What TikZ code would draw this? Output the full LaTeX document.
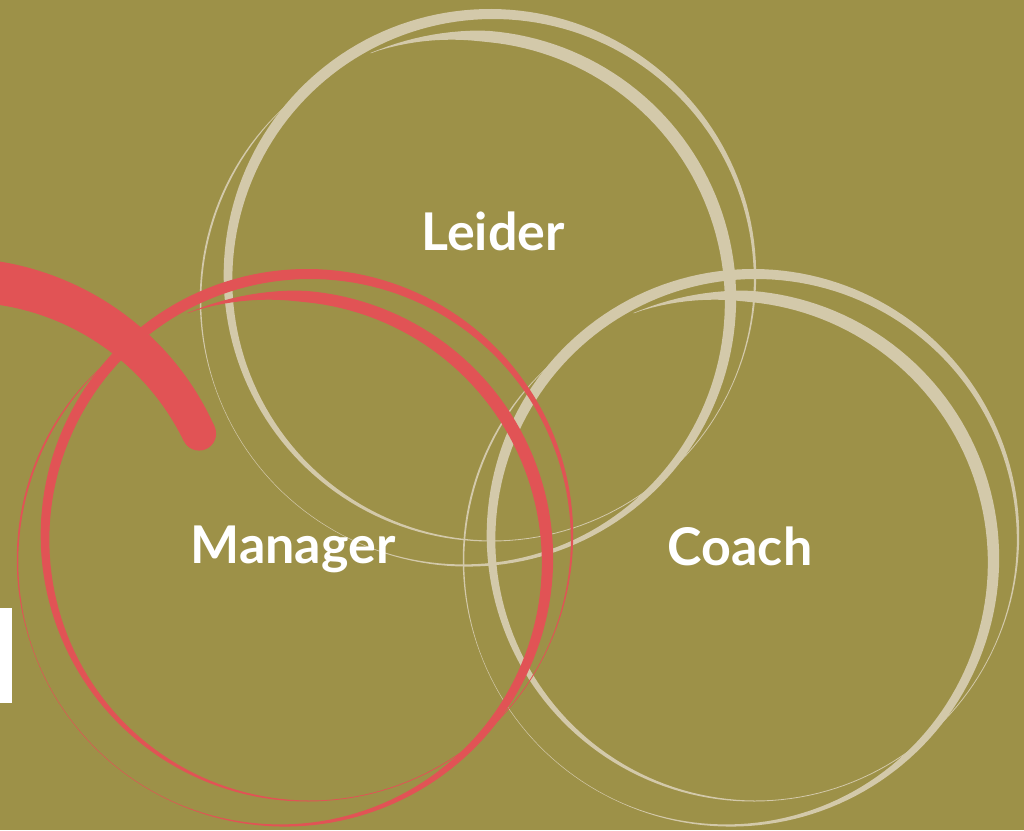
\documentclass[tikz,border=0pt]{standalone}
\usepackage{fontspec}
\setmainfont{Lato}
\definecolor{bgolive}{RGB}{157,145,72}
\definecolor{ringbeige}{RGB}{211,201,170}
\definecolor{ringred}{RGB}{225,83,85}
\tikzset{
  declare function={
    wA(\t)=max(0.8,5.5+5.5*cos(\t-235));
    wB(\t)=max(0.5,(6.5+6.5*cos(\t-318))*min(1,(\t-249)/25)*min(1,(590-\t)/55));
    wR(\t)=46-12*(\t+100)/75;
  },
  lbl/.style={text=white, font=\bfseries\fontsize{52}{60}\selectfont, anchor=base, inner sep=0pt}
}
\newcommand\brushpair[1]{%
  \fill[#1] plot[domain=0:360,samples=181,variable=\t]
      ({13.5+(263.5+wA(\t)/2)*cos(\t)},{-9.5+(263.5+wA(\t)/2)*sin(\t)})
    -- plot[domain=360:0,samples=181,variable=\t]
      ({13.5+(263.5-wA(\t)/2)*cos(\t)},{-9.5+(263.5-wA(\t)/2)*sin(\t)}) -- cycle;
  \fill[#1] plot[domain=249:590,samples=171,variable=\t]
      ({-12.5+(265+wB(\t)/2)*cos(\t)},{13.5+(265+wB(\t)/2)*sin(\t)})
    -- plot[domain=590:249,samples=171,variable=\t]
      ({-12.5+(265-wB(\t)/2)*cos(\t)},{13.5+(265-wB(\t)/2)*sin(\t)}) -- cycle;
}
\begin{document}
\begin{tikzpicture}[x=1pt,y=-1pt]
  \fill[bgolive] (0,0) rectangle (1024,830);
  \useasboundingbox (0,0) rectangle (1024,830);
  % Leider rings
  \begin{scope}[shift={(478,287)}]
    \brushpair{ringbeige}
  \end{scope}
  % Coach rings
  \begin{scope}[shift={(741,547)}]
    \brushpair{ringbeige}
  \end{scope}
  % Manager rings
  \begin{scope}[shift={(295,547)}]
    \brushpair{ringred}
  \end{scope}
  % red sweeping arc
  \begin{scope}[shift={(-42,546)}]
    \fill[ringred] plot[domain=-100:-25,samples=60,variable=\t]
        ({(266+wR(\t)/2)*cos(\t)},{(266+wR(\t)/2)*sin(\t)})
      -- plot[domain=-25:-100,samples=60,variable=\t]
        ({(266-wR(\t)/2)*cos(\t)},{(266-wR(\t)/2)*sin(\t)}) -- cycle;
    \coordinate (arcend) at ({266*cos(-25)},{266*sin(-25)});
    \fill[ringred] (arcend) circle[radius={wR(-25)/2}];
  \end{scope}
  % labels
  \node[lbl] (leider) at (493,250) {Leider};
  \node[lbl] (manager) at (293,563) {Manager};
  \node[lbl] (coach) at (740,565) {Coach};
  % white bar
  \fill[white] (0,608) rectangle (12,703);
\end{tikzpicture}
\end{document}
